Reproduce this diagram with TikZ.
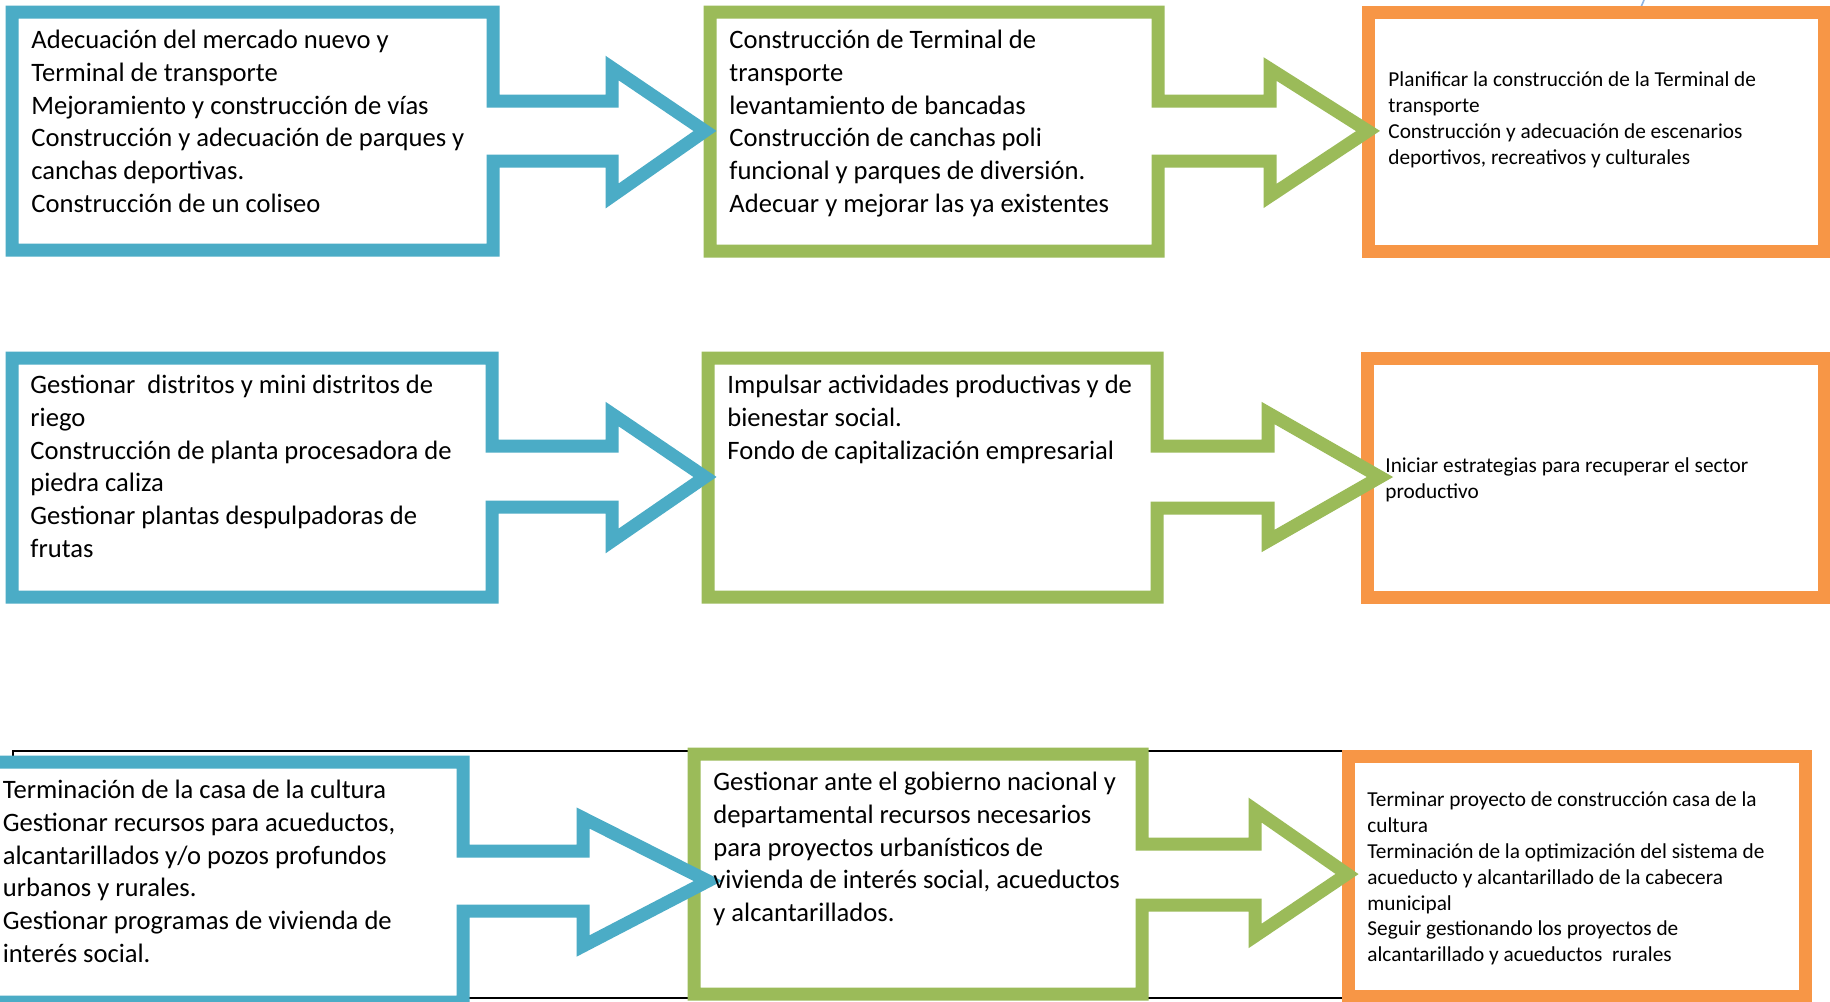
\documentclass[tikz,border=0pt]{standalone}
\usepackage{fontspec}
\setmainfont{Carlito}
\definecolor{cblue}{HTML}{4BACC6}
\definecolor{cgreen}{HTML}{9BBB59}
\definecolor{corange}{HTML}{F79646}
\definecolor{cmark}{HTML}{8FB4E3}
\newcommand\tsbig{\rule{0pt}{12pt}}
\newcommand\tssmall{\rule{0pt}{10pt}}
\tikzset{
  shapebox/.style={line width=6.5pt, line join=miter, fill=white},
  bluebox/.style={shapebox, draw=cblue},
  greenbox/.style={shapebox, draw=cgreen},
  orangebox/.style={shapebox, draw=corange},
  bigtext/.style={anchor=north west, inner sep=0pt, align=left, font=\fontsize{13.3}{16.4}\selectfont},
  smalltext/.style={anchor=north west, inner sep=0pt, align=left, font=\fontsize{10.65}{12.9}\selectfont},
}
\begin{document}
\begin{tikzpicture}[x=0.5pt, y=-0.5pt]
\useasboundingbox (0,0) rectangle (1830,1001);
\clip (0,0) rectangle (1830,1001);
\fill[white] (0,0) rectangle (1830,1001);
% thin black frame of row 3
\draw[black, line width=1.25pt] (13,751) rectangle (1345,998);
% small mark at top
\draw[cmark, line width=0.8pt] (1644,0) -- (1638,14);
% row 1
\draw[orangebox] (1368,12) rectangle (1824,251);
\draw[greenbox] (710,12) -- (1158,12) -- (1158,101) -- (1270,101) -- (1270,69) -- (1368,131) -- (1270,196) -- (1270,161) -- (1158,161) -- (1158,251) -- (710,251) -- cycle;
\draw[bluebox] (12,12) -- (493,12) -- (493,101) -- (612,101) -- (612,68) -- (705,131) -- (612,196) -- (612,161) -- (493,161) -- (493,250) -- (12,250) -- cycle;
% row 2
\draw[orangebox] (1367,358) rectangle (1824,597);
\draw[greenbox] (708,358) -- (1157,358) -- (1157,446) -- (1268,446) -- (1268,413) -- (1380,477) -- (1268,541) -- (1268,508) -- (1157,508) -- (1157,597) -- (708,597) -- cycle;
\draw[bluebox] (12,358) -- (492,358) -- (492,446) -- (612,446) -- (612,414) -- (705,477) -- (612,541) -- (612,507) -- (492,507) -- (492,597) -- (12,597) -- cycle;
% row 3
\draw[orangebox] (1348,756) rectangle (1805,996);
\draw[greenbox] (694,754) -- (1142,754) -- (1142,844) -- (1255,844) -- (1255,810) -- (1347,874) -- (1255,936) -- (1255,905) -- (1142,905) -- (1142,994) -- (694,994) -- cycle;
\draw[bluebox] (-20,762) -- (463,762) -- (463,851) -- (583,851) -- (583,818) -- (708,881) -- (583,946) -- (583,911) -- (463,911) -- (463,1002) -- (-20,1002) -- cycle;
% texts
\node[bigtext] (b1) at (31,24) {\tsbig Adecuación del mercado nuevo y\\Terminal de transporte\\Mejoramiento y construcción de vías\\Construcción y adecuación de parques y\\canchas deportivas.\\Construcción de un coliseo};
\node[bigtext] (g1) at (729,24) {\tsbig Construcción de Terminal de\\transporte\\levantamiento de bancadas\\Construcción de canchas poli\\funcional y parques de diversión.\\Adecuar y mejorar las ya existentes};
\node[smalltext] (o1) at (1388,66.5) {\tssmall Planificar la construcción de la Terminal de\\transporte\\Construcción y adecuación de escenarios\\deportivos, recreativos y culturales};
\node[bigtext] (b2) at (30,369) {\tsbig Gestionar\ \ distritos y mini distritos de\\riego\\Construcción de planta procesadora de\\piedra caliza\\Gestionar plantas despulpadoras de\\frutas};
\node[bigtext] (g2) at (727,369) {\tsbig Impulsar actividades productivas y de\\bienestar social.\\Fondo de capitalización empresarial};
\node[smalltext] (o2) at (1385,452.5) {\tssmall Iniciar estrategias para recuperar el sector\\productivo};
\node[bigtext] (b3) at (2.5,774) {\tsbig Terminación de la casa de la cultura\\Gestionar recursos para acueductos,\\alcantarillados y/o pozos profundos\\urbanos y rurales.\\Gestionar programas de vivienda de\\interés social.};
\node[bigtext] (g3) at (713,766) {\tsbig Gestionar ante el gobierno nacional y\\departamental recursos necesarios\\para proyectos urbanísticos de\\vivienda de interés social, acueductos\\y alcantarillados.};
\node[smalltext] (o3) at (1367,786.5) {\tssmall Terminar proyecto de construcción casa de la\\cultura\\Terminación de la optimización del sistema de\\acueducto y alcantarillado de la cabecera\\municipal\\Seguir gestionando los proyectos de\\alcantarillado y acueductos\ \ rurales};
\end{tikzpicture}
\end{document}
